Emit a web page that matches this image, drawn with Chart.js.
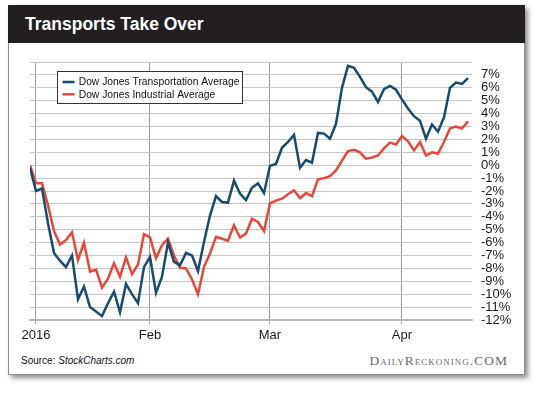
<!DOCTYPE html>
<html>
<head>
<meta charset="utf-8">
<script src="https://cdn.jsdelivr.net/npm/chart.js@4.4.1/dist/chart.umd.min.js"></script>
<style>
  html, body { margin: 0; padding: 0; background: #fff; }
  body { width: 540px; height: 397px; position: relative; overflow: hidden; font-family: "Liberation Sans", Arial, sans-serif; }
  #card { position: absolute; left: 8px; top: 5px; width: 517px; height: 370px; box-sizing: border-box;
          border: 1px solid #8c8c8c; background: #fff; box-shadow: 3px 3px 5px rgba(0,0,0,0.45); }
  #banner { position: absolute; left: 8px; top: 5px; width: 517px; height: 38px; background: #231f20; }
  #title { position: absolute; left: 25px; top: 12px; color: #fff; font-weight: bold; font-size: 17.5px; line-height: 24px; }
  #source { position: absolute; left: 21px; top: 355px; font-size: 10px; line-height: 12px; color: #111; }
  #brand { position: absolute; right: 32px; top: 353px; font-family: "Liberation Serif", serif; font-size: 13.5px;
           line-height: 16px; font-variant: small-caps; letter-spacing: 1px; color: #6a6a6a; }
  #chart { position: absolute; left: 0; top: 0; }
</style>
</head>
<body>
<div id="card"></div>
<div id="banner"></div>
<div id="title">Transports Take Over</div>
<div id="source">Source: <i>StockCharts.com</i></div>
<div id="brand">DailyReckoning.COM</div>
<canvas id="chart" width="540" height="397"></canvas>
<script>
// trading days, Dec 31 2015 .. Apr 18 2016
const dates = [
  "2015-12-31",
  "2016-01-04","2016-01-05","2016-01-06","2016-01-07","2016-01-08","2016-01-11","2016-01-12","2016-01-13","2016-01-14","2016-01-15",
  "2016-01-19","2016-01-20","2016-01-21","2016-01-22","2016-01-25","2016-01-26","2016-01-27","2016-01-28","2016-01-29",
  "2016-02-01","2016-02-02","2016-02-03","2016-02-04","2016-02-05","2016-02-08","2016-02-09","2016-02-10","2016-02-11","2016-02-12",
  "2016-02-16","2016-02-17","2016-02-18","2016-02-19","2016-02-22","2016-02-23","2016-02-24","2016-02-25","2016-02-26","2016-02-29",
  "2016-03-01","2016-03-02","2016-03-03","2016-03-04","2016-03-07","2016-03-08","2016-03-09","2016-03-10","2016-03-11","2016-03-14",
  "2016-03-15","2016-03-16","2016-03-17","2016-03-18","2016-03-21","2016-03-22","2016-03-23","2016-03-24","2016-03-28","2016-03-29",
  "2016-03-30","2016-03-31",
  "2016-04-01","2016-04-04","2016-04-05","2016-04-06","2016-04-07","2016-04-08","2016-04-11","2016-04-12","2016-04-13","2016-04-14",
  "2016-04-15","2016-04-18"
];
const monthNames = { "01": "2016", "02": "Feb", "03": "Mar", "04": "Apr" };

// % change since start of year
const transports = [
  -0.2, -2.0, -1.8, -4.5, -6.8, -7.4, -7.9, -7.0, -10.4, -9.4,
  -11.0, -11.35, -11.7, -10.7, -9.8, -11.4, -9.2, -10.0, -10.7, -7.9,
  -7.1, -9.9, -8.65, -6.0, -7.5, -7.75, -6.8, -7.0, -8.2, -5.95,
  -3.9, -2.4, -2.85, -2.9, -1.2, -2.2, -2.7, -1.75, -1.4, -2.15,
  -0.05, 0.1, 1.35, 1.8, 2.35, -0.2, 0.4, 0.2, 2.5, 2.45,
  2.05, 3.2, 6.0, 7.7, 7.55, 6.85, 6.05, 5.7, 4.9, 5.9,
  6.15, 5.85, 5.1, 4.4, 3.8, 3.45, 2.05, 3.15, 2.6, 3.7,
  6.0, 6.4, 6.3, 6.75
];
const industrials = [
  0.0, -1.4, -1.4, -3.1, -5.1, -6.15, -5.8, -5.2, -7.35, -6.0,
  -8.25, -8.1, -9.5, -8.8, -7.6, -8.65, -7.15, -8.45, -7.7, -5.35,
  -5.6, -7.2, -6.2, -5.7, -7.0, -7.95, -8.0, -8.85, -10.0, -7.9,
  -6.85, -5.55, -5.7, -5.85, -4.65, -5.6, -5.3, -4.15, -4.4, -5.1,
  -2.95, -2.75, -2.6, -2.25, -1.95, -2.55, -2.15, -2.4, -1.1, -1.0,
  -0.85, -0.4, 0.35, 1.1, 1.2, 1.0, 0.5, 0.6, 0.75, 1.3,
  1.75, 1.6, 2.25, 1.85, 1.15, 1.8, 0.75, 1.0, 0.9, 1.8,
  2.85, 3.0, 2.85, 3.4
];
const seriesNames = ["Dow Jones Transportation Average", "Dow Jones Industrial Average"];
const yTicks = [-12, -11, -10, -9, -8, -7, -6, -5, -4, -3, -2, -1, 0, 1, 2, 3, 4, 5, 6, 7, 8];

const BLUE = "#174b6f";
const RED = "#e8473d";
const FONT = "'Liberation Sans', Arial, sans-serif";

// index of first trading day of each month
const monthStarts = [];
dates.forEach((d, i) => {
  if (i > 0 && d.slice(5, 7) !== dates[i - 1].slice(5, 7)) monthStarts.push(i);
});

const toPoints = arr => arr.map((v, i) => ({ x: i, y: v }));

const boxLegend = {
  id: "boxLegend",
  afterDraw(chart) {
    const ctx = chart.ctx;
    const x = 57.5, y = 71.5, w = 185, h = 32;
    ctx.save();
    ctx.fillStyle = "#fff";
    ctx.fillRect(x, y, w, h);
    ctx.strokeStyle = "#333";
    ctx.lineWidth = 1;
    ctx.strokeRect(x, y, w, h);
    ctx.font = "10.3px " + FONT;
    ctx.textBaseline = "middle";
    chart.data.datasets.forEach((ds, i) => {
      const cy = 82 + i * 12.3;
      ctx.strokeStyle = ds.borderColor;
      ctx.lineWidth = 2.5;
      ctx.beginPath();
      ctx.moveTo(62.5, cy);
      ctx.lineTo(74.5, cy);
      ctx.stroke();
      ctx.fillStyle = "#111";
      ctx.fillText(ds.label, 78.7, cy + 0.5);
    });
    ctx.restore();
  }
};

new Chart(document.getElementById("chart").getContext("2d"), {
  type: "line",
  data: {
    datasets: [
      { label: seriesNames[0], data: toPoints(transports), borderColor: BLUE, borderWidth: 2.5, pointRadius: 0, tension: 0 },
      { label: seriesNames[1], data: toPoints(industrials), borderColor: RED, borderWidth: 2.5, pointRadius: 0, tension: 0 }
    ]
  },
  options: {
    responsive: false,
    animation: false,
    devicePixelRatio: 1,
    layout: { padding: { left: 30, top: 62, right: 0, bottom: 0 } },
    plugins: { legend: { display: false }, tooltip: { enabled: false } },
    scales: {
      x: {
        type: "linear",
        min: 0,
        max: dates.length - 0.33,
        afterBuildTicks: s => { s.ticks = monthStarts.map(i => ({ value: i })); },
        afterFit: s => { s.height = 77; },
        ticks: {
          callback: v => monthNames[dates[v].slice(5, 7)],
          color: "#1a1a1a",
          font: { family: FONT, size: 13 },
          padding: 4,
          maxRotation: 0,
          autoSkip: false
        },
        grid: { color: "#9a9a9a", lineWidth: 1, tickLength: 4 },
        border: { display: true, color: "#b8b8b8", width: 2 }
      },
      y: {
        position: "right",
        min: yTicks[0],
        max: yTicks[yTicks.length - 1],
        afterBuildTicks: s => { s.ticks = yTicks.map(v => ({ value: v })); },
        afterFit: s => { s.width = 68; },
        ticks: {
          callback: v => (v === 8 ? "" : v + "%"),
          color: "#1a1a1a",
          font: { family: FONT, size: 13 },
          padding: 9,
          autoSkip: false
        },
        grid: { color: "#c6c6c6", lineWidth: 1, drawTicks: false },
        border: { display: false }
      }
    }
  },
  plugins: [boxLegend]
});
</script>
</body>
</html>
